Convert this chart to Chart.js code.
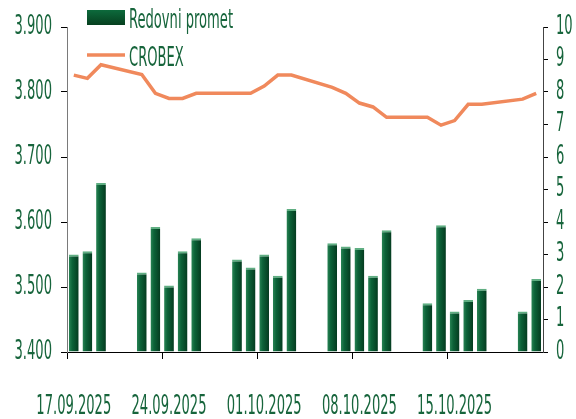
<!DOCTYPE html>
<html>
<head>
<meta charset="utf-8">
<script src="https://cdn.jsdelivr.net/npm/chart.js@4.4.1/dist/chart.umd.min.js"></script>
<style>
  html, body { margin: 0; padding: 0; background: #ffffff; }
  #wrap { width: 576px; height: 419px; position: relative; }
</style>
</head>
<body>
<div id="wrap"><canvas id="c" width="576" height="419"></canvas></div>
<script>
// ---- data ----
const dates = [
  '17.09.2025','18.09.2025','19.09.2025','20.09.2025','21.09.2025',
  '22.09.2025','23.09.2025','24.09.2025','25.09.2025','26.09.2025','27.09.2025','28.09.2025',
  '29.09.2025','30.09.2025','01.10.2025','02.10.2025','03.10.2025','04.10.2025','05.10.2025',
  '06.10.2025','07.10.2025','08.10.2025','09.10.2025','10.10.2025','11.10.2025','12.10.2025',
  '13.10.2025','14.10.2025','15.10.2025','16.10.2025','17.10.2025','18.10.2025','19.10.2025',
  '20.10.2025','21.10.2025'
];
// Redovni promet (right axis), weekends empty
const promet = [
  3.0, 3.1, 5.2, null, null,
  2.45, 3.85, 2.05, 3.1, 3.5, null, null,
  2.85, 2.6, 3.0, 2.35, 4.4, null, null,
  3.35, 3.25, 3.2, 2.35, 3.75, null, null,
  1.5, 3.9, 1.25, 1.6, 1.95, null, null,
  1.25, 2.25
];
// CROBEX (left axis)
const crobex = [
  3826, 3821, 3842, null, null,
  3827, 3798, 3790, 3790, 3798, null, null,
  3798, 3798, 3809, 3826, 3826, null, null,
  3807, 3798, 3783, 3777, 3761, null, null,
  3761, 3749, 3756, 3781, 3781, null, null,
  3789, 3798
];
const seriesNames = ['Redovni promet', 'CROBEX'];
const labelEvery = 7;

// ---- styles ----
const FONT = "'Liberation Sans Narrow', 'Arial Narrow', 'DejaVu Sans Condensed', 'DejaVu Sans', sans-serif";
const FSIZE = 26;
const SX = 0.56; // horizontal condensing of text, like the narrow reference face
const TXT = '#17653c';
const ORANGE = '#f0895c';

function fmtThousand(v) {
  const k = Math.floor(v / 1000);
  const r = Math.round(v % 1000);
  return k + '.' + String(r).padStart(3, '0');
}

function barFill(ctx) {
  const chart = ctx.chart;
  if (!chart.chartArea || ctx.type !== 'data') return '#0b5a33';
  const xs = chart.scales.x;
  const x = xs.getPixelForValue(ctx.dataIndex);
  const w = 10;
  const g = chart.ctx.createLinearGradient(x - w / 2, 0, x + w / 2, 0);
  g.addColorStop(0, '#2a8556');
  g.addColorStop(0.35, '#0c6238');
  g.addColorStop(1, '#043a1f');
  return g;
}

// condensed text: wrap fillText/measureText of this canvas context
const canvas = document.getElementById('c');
const c2d = canvas.getContext('2d');
const origFill = c2d.fillText.bind(c2d);
const origMeasure = c2d.measureText.bind(c2d);
c2d.fillText = function (text, x, y, mw) {
  this.save();
  this.translate(x, y);
  this.scale(SX, 1);
  if (mw === undefined) origFill(text, 0, 0);
  else origFill(text, 0, 0, mw / SX);
  this.restore();
};
c2d.measureText = function (text) {
  const m = origMeasure(text);
  return {
    width: m.width * SX,
    actualBoundingBoxAscent: m.actualBoundingBoxAscent,
    actualBoundingBoxDescent: m.actualBoundingBoxDescent,
    actualBoundingBoxLeft: m.actualBoundingBoxLeft * SX,
    actualBoundingBoxRight: m.actualBoundingBoxRight * SX,
    fontBoundingBoxAscent: m.fontBoundingBoxAscent,
    fontBoundingBoxDescent: m.fontBoundingBoxDescent
  };
};

const legendPlugin = {
  id: 'customLegend',
  afterDraw(chart) {
    const c = chart.ctx;
    const ds = chart.data.datasets;
    c.save();
    c.font = FSIZE + 'px ' + FONT;
    c.textBaseline = 'alphabetic';
    c.textAlign = 'left';
    // bar item
    const g = c.createLinearGradient(0, 10, 0, 25);
    g.addColorStop(0, '#0d6a3c');
    g.addColorStop(1, '#06401f');
    c.fillStyle = g;
    c.fillRect(87, 10, 38, 15);
    c.fillStyle = TXT;
    c.fillText(ds[0].label, 129, 28);
    // line item
    c.strokeStyle = ORANGE;
    c.lineWidth = 3.5;
    c.beginPath();
    c.moveTo(87, 55);
    c.lineTo(125, 55);
    c.stroke();
    c.fillText(ds[1].label, 129, 66);
    c.restore();
  }
};

new Chart(canvas, {
  data: {
    labels: dates,
    datasets: [
      {
        type: 'bar',
        label: seriesNames[0],
        data: promet,
        yAxisID: 'y2',
        backgroundColor: barFill,
        borderColor: '#5fae82',
        borderWidth: { top: 2, left: 0, right: 0, bottom: 0 },
        borderSkipped: 'bottom',
        barPercentage: 0.72,
        categoryPercentage: 1.0,
        order: 2
      },
      {
        type: 'line',
        label: seriesNames[1],
        data: crobex,
        yAxisID: 'y',
        borderColor: ORANGE,
        borderWidth: 3.5,
        pointRadius: 0,
        spanGaps: true,
        tension: 0,
        order: 1
      }
    ]
  },
  options: {
    responsive: false,
    animation: false,
    devicePixelRatio: 1,
    layout: { padding: { top: 27, left: 0, right: 0, bottom: 0 } },
    plugins: { legend: { display: false }, tooltip: { enabled: false } },
    scales: {
      x: {
        type: 'category',
        offset: true,
        afterFit(s) { s.height = 67; },
        grid: {
          display: true,
          offset: true,
          drawOnChartArea: false,
          drawTicks: true,
          tickLength: 7,
          color: (ctx) => (ctx.index % labelEvery === 0 ? '#000000' : 'rgba(0,0,0,0)')
        },
        border: { display: true, color: '#000000', width: 1 },
        ticks: {
          autoSkip: false,
          maxRotation: 0,
          minRotation: 0,
          padding: 33,
          color: TXT,
          font: { family: FONT, size: FSIZE },
          callback: (v, i) => (i % labelEvery === 0 ? dates[i] : '')
        }
      },
      y: {
        position: 'left',
        min: 3400,
        max: 3900,
        afterFit(s) { s.width = 67; },
        grid: { drawOnChartArea: false, tickLength: 6, color: '#000000' },
        border: { display: true, color: '#7a7a7a', width: 1 },
        ticks: {
          autoSkip: false,
          stepSize: 100,
          padding: 9,
          color: TXT,
          font: { family: FONT, size: FSIZE },
          callback: (v) => fmtThousand(v)
        }
      },
      y2: {
        position: 'right',
        min: 0,
        max: 10,
        afterFit(s) { s.width = 33; },
        grid: { drawOnChartArea: false, tickLength: 5, color: '#000000' },
        border: { display: true, color: '#444444', width: 1 },
        ticks: {
          autoSkip: false,
          stepSize: 1,
          padding: 8,
          color: TXT,
          font: { family: FONT, size: FSIZE }
        }
      }
    }
  },
  plugins: [legendPlugin]
});
</script>
</body>
</html>
